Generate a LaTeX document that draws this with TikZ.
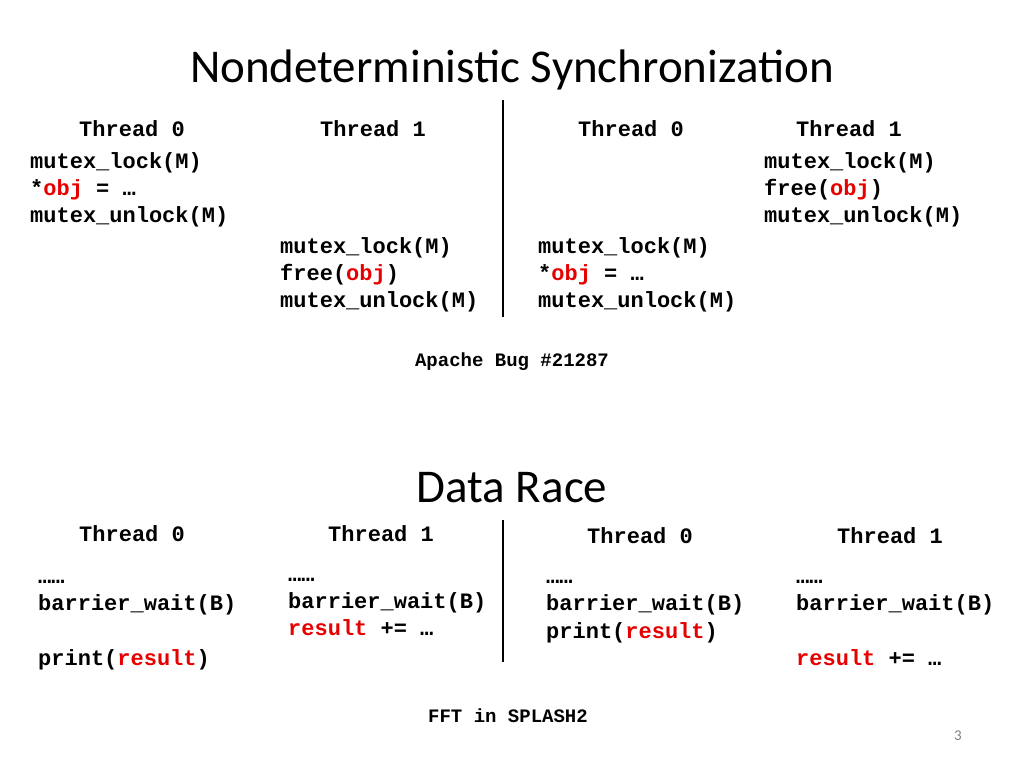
\documentclass[tikz,border=0pt]{standalone}
\usepackage{fontspec}
\setmainfont{Carlito}
\newfontfamily\codefont{Liberation Mono}
\definecolor{CodeRed}{RGB}{230,0,0}
\tikzset{
  x=1pt, y=-1pt,
  code/.style={anchor=base west, inner sep=0pt, font=\codefont\bfseries\fontsize{22}{26}\selectfont},
  caption/.style={anchor=base, inner sep=0pt, font=\codefont\bfseries\fontsize{19}{23}\selectfont},
  heading/.style={anchor=base, inner sep=0pt, font=\fontsize{47}{56}\selectfont},
  divider/.style={line width=2.5pt}
}
\newcommand{\hl}[1]{\textcolor{CodeRed}{#1}}
\begin{document}
\begin{tikzpicture}
  \useasboundingbox (0,0) rectangle (1024,768);

  % Nondeterministic synchronization
  \node[heading] (titleOne) at (512,82) {Nondeterministic Synchronization};
  \node[code] (nsThreadA) at (79,136) {Thread 0};
  \node[code] (nsThreadB) at (320,136) {Thread 1};
  \node[code] (nsThreadC) at (578,136) {Thread 0};
  \node[code] (nsThreadD) at (796,136) {Thread 1};

  \node[code] (nsA1) at (30,168) {mutex\_lock(M)};
  \node[code] (nsA2) at (30,195) {*\hl{obj} = …};
  \node[code] (nsA3) at (30,222) {mutex\_unlock(M)};
  \node[code] (nsB1) at (280,253) {mutex\_lock(M)};
  \node[code] (nsB2) at (280,280) {free(\hl{obj})};
  \node[code] (nsB3) at (280,307) {mutex\_unlock(M)};

  \node[code] (nsD1) at (764,168) {mutex\_lock(M)};
  \node[code] (nsD2) at (764,195) {free(\hl{obj})};
  \node[code] (nsD3) at (764,222) {mutex\_unlock(M)};
  \node[code] (nsC1) at (538,253) {mutex\_lock(M)};
  \node[code] (nsC2) at (538,280) {*\hl{obj} = …};
  \node[code] (nsC3) at (538,307) {mutex\_unlock(M)};

  \coordinate (nsTop) at (503,100);
  \coordinate (nsBottom) at (503,317);
  \draw[divider] (nsTop) -- (nsBottom);
  \node[caption] (nsCaption) at (512,366) {Apache Bug \#21287};

  % Data race
  \node[heading] (titleTwo) at (512,502) {Data Race};
  \node[code] (drThreadA) at (79,541) {Thread 0};
  \node[code] (drThreadB) at (328,541) {Thread 1};
  \node[code] (drThreadC) at (587,543) {Thread 0};
  \node[code] (drThreadD) at (837,543) {Thread 1};

  \node[code] (drA1) at (38,583) {……};
  \node[code] (drA2) at (38,610) {barrier\_wait(B)};
  \node[code] (drA3) at (38,665) {print(\hl{result})};
  \node[code] (drB1) at (288,581) {……};
  \node[code] (drB2) at (288,608) {barrier\_wait(B)};
  \node[code] (drB3) at (288,635) {\hl{result} += …};

  \node[code] (drC1) at (546,583) {……};
  \node[code] (drC2) at (546,610) {barrier\_wait(B)};
  \node[code] (drC3) at (546,638) {print(\hl{result})};
  \node[code] (drD1) at (796,583) {……};
  \node[code] (drD2) at (796,610) {barrier\_wait(B)};
  \node[code] (drD3) at (796,665) {\hl{result} += …};

  \coordinate (drTop) at (503,520);
  \coordinate (drBottom) at (503,662);
  \draw[divider] (drTop) -- (drBottom);
  \node[caption] (drCaption) at (508,722) {FFT in SPLASH2};

  \node[anchor=base, inner sep=0pt, text=gray, font=\fontsize{15}{18}\selectfont] (pageNum) at (958,740) {3};
\end{tikzpicture}
\end{document}
